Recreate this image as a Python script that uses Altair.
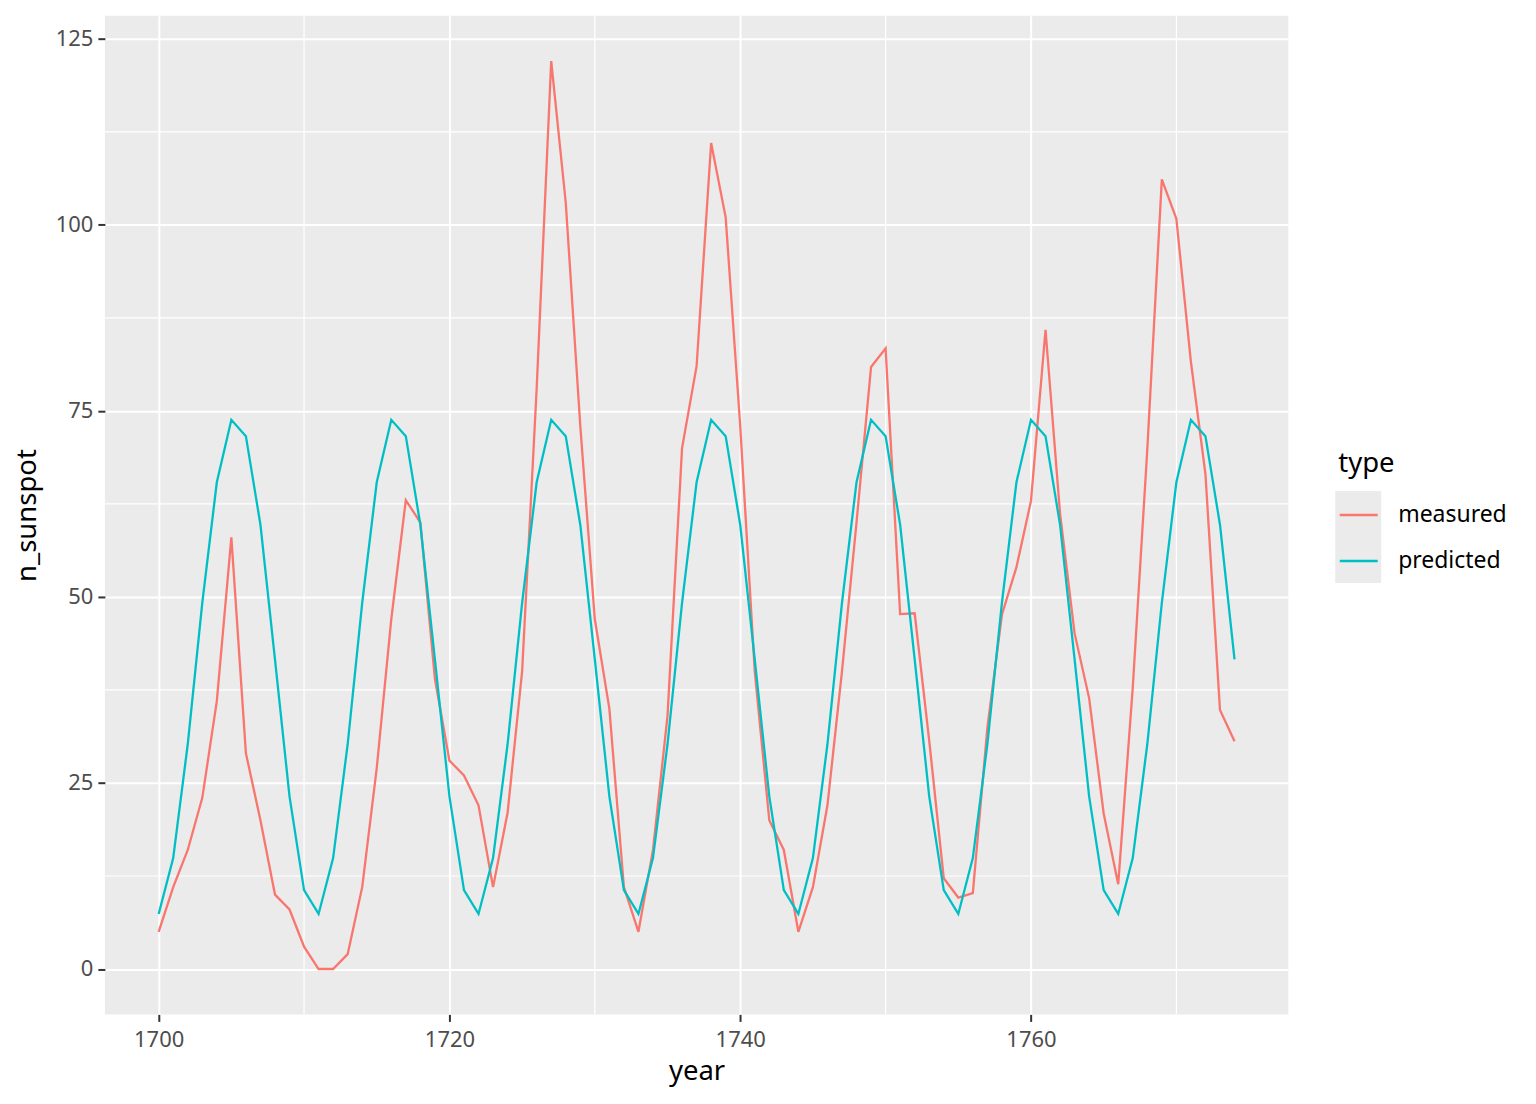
import altair as alt
import pandas as pd

years = list(range(1700, 1775))
measured = [5, 11, 16, 23, 36, 58, 29, 20, 10, 8, 3, 0, 0, 2, 11, 27, 47, 63, 60, 39,
            28, 26, 22, 11, 21, 40, 78, 122, 103, 73, 47, 35, 11, 5, 16, 34, 70, 81, 111, 101,
            73, 40, 20, 16, 5, 11, 22, 40, 60, 80.9, 83.4, 47.7, 47.8, 30.7, 12.2, 9.6, 10.2, 32.4, 47.6, 54,
            62.9, 85.9, 61.2, 45.1, 36.4, 20.9, 11.4, 37.8, 69.8, 106.1, 100.8, 81.6, 66.5, 34.8, 30.6]
cycle = [7.4, 14.9, 30.2, 49.2, 65.4, 73.8, 71.6, 59.7, 41.6, 23.2, 10.6]
predicted = [cycle[(y - 1700) % 11] for y in years]

x_major = [1700, 1720, 1740, 1760]
x_minor = [1710, 1730, 1750, 1770]
y_major = [0, 25, 50, 75, 100, 125]
y_minor = [12.5, 37.5, 62.5, 87.5, 112.5]
key_slots = ["k1", "k2"]

df = pd.DataFrame({
    "year": years * 2,
    "n_sunspot": measured + predicted,
    "type": ["measured"] * len(years) + ["predicted"] * len(years),
})

FONT = "Noto Sans"
xscale = alt.Scale(domain=[1696.3, 1777.7], nice=False, zero=False)
yscale = alt.Scale(domain=[-6.1, 128.1], nice=False, zero=False)

common = dict(grid=True, gridColor="white", gridWidth=2, domain=False,
              tickColor="#333333", tickSize=7, tickWidth=2,
              labelColor="#4D4D4D", labelFontSize=22, labelFont=FONT,
              titleFontSize=27.5, titleColor="black", titleFontWeight="normal",
              titleFont=FONT, format="d")
xaxis = alt.Axis(values=x_major, title="year", labelPadding=8, titlePadding=7, **common)
yaxis = alt.Axis(values=y_major, title="n_sunspot", labelPadding=5, titlePadding=14, **common)

minor_x = alt.Chart(pd.DataFrame({"v": x_minor})).mark_rule(color="white", strokeWidth=1.2).encode(
    x=alt.X("v:Q", scale=xscale, axis=xaxis))
minor_y = alt.Chart(pd.DataFrame({"v": y_minor})).mark_rule(color="white", strokeWidth=1.2).encode(
    y=alt.Y("v:Q", scale=yscale, axis=yaxis))

# grey legend key background (ggplot style), drawn by a legend of an empty layer
key_bg = alt.Chart(pd.DataFrame({"k": key_slots})).transform_filter("false").mark_point(
    filled=True, shape="square").encode(
    fill=alt.Fill("k:N", scale=alt.Scale(domain=key_slots, range=["#EBEBEB", "#EBEBEB"]),
                  legend=alt.Legend(title=None, symbolType="square", symbolSize=2116,
                                    symbolStrokeWidth=0, symbolOpacity=1, labelOpacity=0,
                                    labelFontSize=1, orient="none", legendX=1232, legendY=476,
                                    padding=0, rowPadding=0, zindex=0)))

lines = alt.Chart(df).mark_line(strokeWidth=2.3).encode(
    x=alt.X("year:Q", scale=xscale, axis=xaxis),
    y=alt.Y("n_sunspot:Q", scale=yscale, axis=yaxis),
    color=alt.Color("type:N",
                    scale=alt.Scale(domain=["measured", "predicted"], range=["#F8766D", "#00BFC4"]),
                    legend=alt.Legend(title="type", titleFontSize=27.5, titleFont=FONT,
                                      titleFontWeight="normal", titleColor="black",
                                      labelFontSize=23, labelFont=FONT, labelColor="black",
                                      symbolType="stroke", symbolSize=1444, symbolStrokeWidth=2.5,
                                      orient="none", legendX=1235, legendY=435,
                                      padding=0, rowPadding=13, labelOffset=19,
                                      titlePadding=17, zindex=1)),
)

chart = alt.layer(key_bg, minor_x, minor_y, lines).properties(
    width=1185, height=1000,
    autosize=alt.AutoSizeParams(type="none"),
    padding={"left": 97, "top": 7, "right": 240, "bottom": 90},
).resolve_legend(color="independent", fill="independent").configure(
    background="white").configure_view(fill="#EBEBEB", stroke=None)

chart.save("out.html", embed_options={"renderer": "svg", "actions": False})
